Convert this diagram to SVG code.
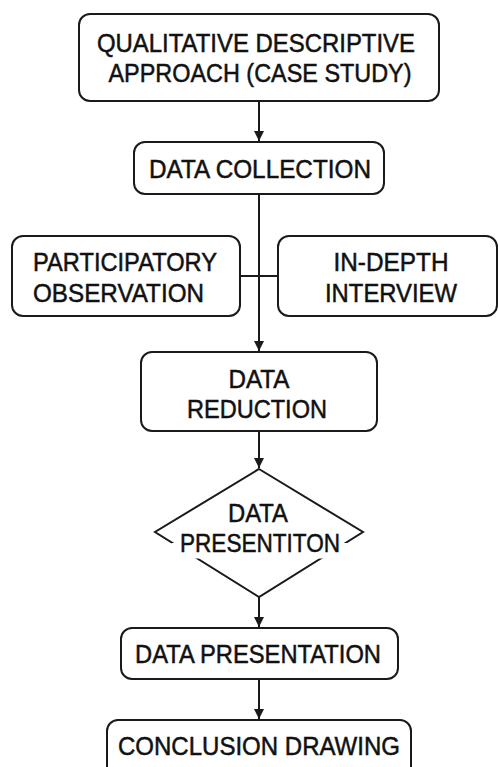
<svg xmlns="http://www.w3.org/2000/svg" width="498" height="767" viewBox="0 0 498 767">
<style>
.box{fill:#fff;stroke:#1a1a1a;stroke-width:2}
.t{font-family:"Liberation Sans",Arial,sans-serif;font-size:26px;fill:#111;text-anchor:middle;stroke:#111;stroke-width:0.5}
.s{text-anchor:start}
.ln{stroke:#1a1a1a;stroke-width:2;fill:none}
</style>
<defs>
<marker id="ah" viewBox="0 0 10 10" refX="10" refY="5" markerWidth="10" markerHeight="10" markerUnits="userSpaceOnUse" orient="auto">
<path d="M0,0 L10,5 L0,10 z" fill="#1a1a1a"/>
</marker>
</defs>
<rect width="498" height="767" fill="#fff"/>
<g id="connectors">
<line class="ln" x1="259" y1="101" x2="259" y2="141" marker-end="url(#ah)"/>
<line class="ln" x1="259" y1="194" x2="259" y2="351" marker-end="url(#ah)"/>
<line class="ln" x1="240" y1="276" x2="278" y2="276"/>
<line class="ln" x1="259" y1="431" x2="259" y2="468" marker-end="url(#ah)"/>
<line class="ln" x1="259" y1="597" x2="259" y2="627" marker-end="url(#ah)"/>
<line class="ln" x1="259" y1="679" x2="259" y2="719" marker-end="url(#ah)"/>
</g>
<g id="approach">
<rect class="box" x="79" y="14" width="360" height="87" rx="11"/>
<text class="t" x="256" y="52" textLength="318" lengthAdjust="spacingAndGlyphs">QUALITATIVE DESCRIPTIVE</text>
<text class="t" x="260" y="82" textLength="303" lengthAdjust="spacingAndGlyphs">APPROACH (CASE STUDY)</text>
</g>
<g id="data-collection">
<rect class="box" x="134" y="142" width="250" height="52" rx="11"/>
<text class="t" x="260" y="178" textLength="222" lengthAdjust="spacingAndGlyphs">DATA COLLECTION</text>
</g>
<g id="participatory">
<rect class="box" x="12" y="236" width="228" height="80" rx="11"/>
<text class="t s" x="33" y="271" textLength="184" lengthAdjust="spacingAndGlyphs">PARTICIPATORY</text>
<text class="t s" x="33" y="302" textLength="171" lengthAdjust="spacingAndGlyphs">OBSERVATION</text>
</g>
<g id="interview">
<rect class="box" x="278" y="236" width="219" height="80" rx="11"/>
<text class="t" x="391" y="271" textLength="115" lengthAdjust="spacingAndGlyphs">IN-DEPTH</text>
<text class="t" x="391" y="302" textLength="132" lengthAdjust="spacingAndGlyphs">INTERVIEW</text>
</g>
<g id="data-reduction">
<rect class="box" x="141" y="352" width="236" height="79" rx="11"/>
<text class="t" x="259" y="388" textLength="61" lengthAdjust="spacingAndGlyphs">DATA</text>
<text class="t" x="257" y="418" textLength="140" lengthAdjust="spacingAndGlyphs">REDUCTION</text>
</g>
<g id="decision">
<polygon class="box" points="259,469 363,532 259,597 155,532"/>
<rect x="171.5" y="543" width="177" height="15.5" fill="#fff"/>
<text class="t" x="258" y="522" textLength="60" lengthAdjust="spacingAndGlyphs">DATA</text>
<text class="t" x="260" y="552" textLength="160" lengthAdjust="spacingAndGlyphs">PRESENTITON</text>
</g>
<g id="data-presentation">
<rect class="box" x="121" y="628" width="277" height="51" rx="11"/>
<text class="t" x="258" y="663" textLength="246" lengthAdjust="spacingAndGlyphs">DATA PRESENTATION</text>
</g>
<g id="conclusion">
<rect class="box" x="107" y="720" width="304" height="60" rx="11"/>
<text class="t" x="259" y="755" textLength="282" lengthAdjust="spacingAndGlyphs">CONCLUSION DRAWING</text>
</g>
</svg>
